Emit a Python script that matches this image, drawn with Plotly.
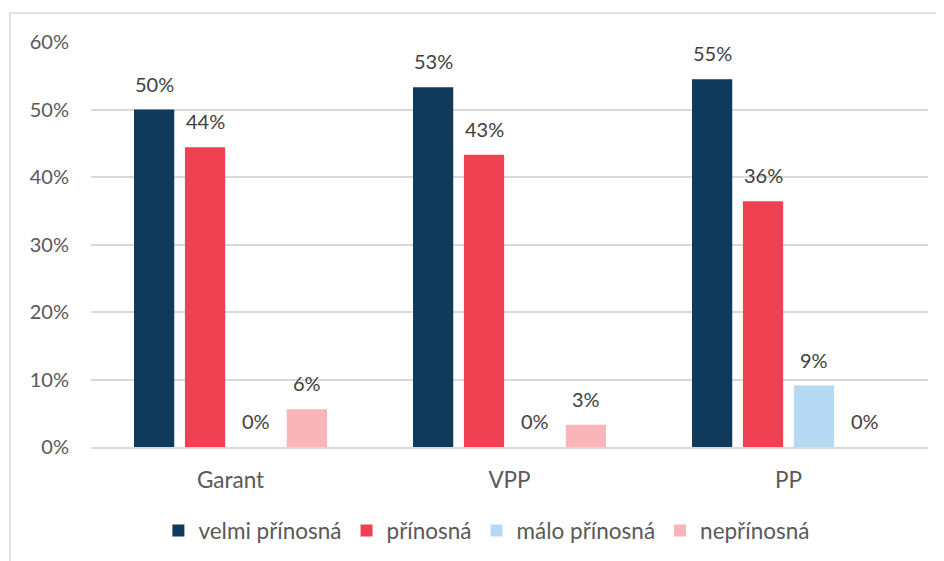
import plotly.graph_objects as go

categories = ["Garant", "VPP", "PP"]
series_names = ["velmi přínosná", "přínosná", "málo přínosná", "nepřínosná"]
velmi_prinosna = [0.500, 0.533, 0.545]
prinosna = [0.444, 0.433, 0.364]
malo_prinosna = [0.0, 0.0, 0.091]
neprinosna = [0.056, 0.033, 0.0]
colors = ["#0F3A5C", "#F04152", "#B5D9F3", "#F9B5BA"]
tick_vals = [0, 0.1, 0.2, 0.3, 0.4, 0.5, 0.6]

FONT = "Lato"
FS = 20
FS_TXT = 22.5
ML, MR, MT, MB = 83, 24, 34, 122
PLOT_W = 944 - ML - MR
BARGAP = 0.27
slot = PLOT_W / 3 * (1 - BARGAP) / 4

fig = go.Figure()
all_vals = [velmi_prinosna, prinosna, malo_prinosna, neprinosna]
for i, (name, vals, col) in enumerate(zip(series_names, all_vals, colors)):
    fig.add_trace(go.Bar(
        x=categories, y=vals, name=name,
        marker=dict(color=col, line=dict(width=0)),
    ))
    for c, v in zip(categories, vals):
        fig.add_annotation(
            x=c, y=v, xref="x", yref="y", text=f"{round(v*100)}%", showarrow=False,
            xanchor="center", yanchor="bottom", xshift=(i - 1.5) * slot, yshift=12,
            font=dict(family=FONT, size=FS, color="#404040"),
        )

fig.update_layout(
    width=944, height=561,
    margin=dict(l=ML, r=MR, t=MT, b=MB, autoexpand=False),
    paper_bgcolor="white", plot_bgcolor="white",
    barmode="group", bargap=BARGAP, bargroupgap=0.21,
    font=dict(family=FONT, size=FS, color="#595959"),
    showlegend=True,
    legend=dict(orientation="h", x=0.473, xanchor="center", y=-0.207, yanchor="middle",
                font=dict(family=FONT, size=FS_TXT, color="#595959"), itemwidth=30, traceorder="normal"),
    xaxis=dict(showgrid=False, showline=True, linecolor="#D9D9D9", linewidth=1.5,
               ticks="", tickfont=dict(family=FONT, size=FS_TXT, color="#595959"), ticklabelstandoff=12),
    yaxis=dict(range=[0, 0.6], tickvals=tick_vals, tickformat=".0%", showgrid=True,
               gridcolor="#D9D9D9", gridwidth=1.5, zeroline=False, showline=False,
               tickfont=dict(family=FONT, size=FS, color="#595959"), ticklabelstandoff=21),
    shapes=[dict(type="rect", xref="paper", yref="paper", x0=-0.0968, x1=2, y0=-1, y1=1.0716,
                 line=dict(color="#D9D9D9", width=1.5), fillcolor="rgba(0,0,0,0)", layer="below")],
)

fig.write_html("out.html")
